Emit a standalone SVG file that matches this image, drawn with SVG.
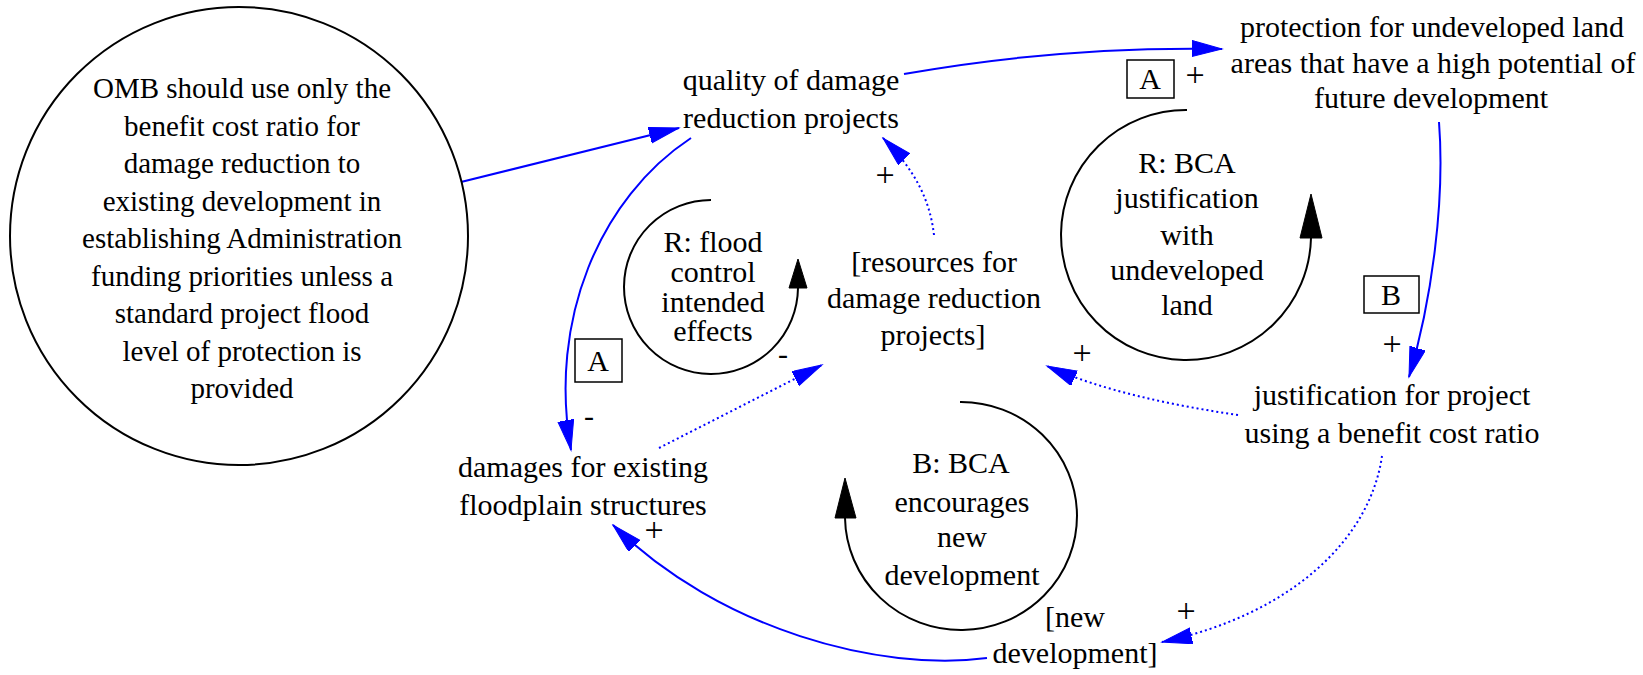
<svg xmlns="http://www.w3.org/2000/svg" width="1643" height="675" viewBox="0 0 1643 675" font-family="Liberation Serif, DejaVu Serif, serif">
<defs>
<style>
text{font-family:'Liberation Serif','DejaVu Serif',serif;font-size:30px;fill:#000;text-anchor:middle}
.big{font-size:29px}
.pl{font-size:34px}
.e{fill:none;stroke:#0000ff;stroke-width:2}
.d{fill:none;stroke:#0000ff;stroke-width:2;stroke-dasharray:2 3}
.loop{fill:none;stroke:#000;stroke-width:2}
.box{fill:#fff;stroke:#000;stroke-width:1.5}
.ah{fill:#000;stroke:#000;stroke-width:1}
</style>
<marker id="ab" markerUnits="userSpaceOnUse" markerWidth="32" markerHeight="18" refX="30" refY="8" orient="auto" viewBox="0 0 32 18">
<path d="M0,0 L30,8 L0,16 z" fill="#0000ff" stroke="#0000ff" stroke-width="1"/>
</marker>
</defs>
<rect width="1643" height="675" fill="#fff"/>

<g id="connectors">
<path class="e" d="M461,182 L679,128" marker-end="url(#ab)"/>
<path class="e" d="M904,74 C1000,57 1110,47 1222,49" marker-end="url(#ab)"/>
<path class="e" d="M691,138 C600,198 548,320 571,450" marker-end="url(#ab)"/>
<path class="d" d="M934,235 C930,200 915,170 883,138" marker-end="url(#ab)"/>
<path class="d" d="M659,448 L822,365" marker-end="url(#ab)"/>
<path class="d" d="M1238,415 C1170,405 1100,390 1047,366" marker-end="url(#ab)"/>
<path class="e" d="M1439,122 C1445,200 1432,300 1409,377" marker-end="url(#ab)"/>
<path class="d" d="M1382,456 C1370,540 1290,615 1162,642" marker-end="url(#ab)"/>
<path class="e" d="M987,658 C880,672 720,630 613,525" marker-end="url(#ab)"/>
<text class="pl" x="885" y="186">+</text>
<text class="pl" x="1195" y="86">+</text>
<text class="pl" x="1392" y="355">+</text>
<text x="589" y="426">-</text>
<text x="783" y="364">-</text>
<text class="pl" x="654" y="541">+</text>
<text class="pl" x="1082" y="364">+</text>
<text class="pl" x="1186" y="622">+</text>
</g>

<g id="omb">
<circle cx="239" cy="236" r="229" fill="none" stroke="#000" stroke-width="2"/>
<text class="big" x="242" y="98">OMB should use only the</text>
<text class="big" x="242" y="135.5">benefit cost ratio for</text>
<text class="big" x="242" y="173">damage reduction to</text>
<text class="big" x="242" y="210.5">existing development in</text>
<text class="big" x="242" y="248">establishing Administration</text>
<text class="big" x="242" y="285.5">funding priorities unless a</text>
<text class="big" x="242" y="323">standard project flood</text>
<text class="big" x="242" y="360.5">level of protection is</text>
<text class="big" x="242" y="398">provided</text>
</g>

<g id="quality">
<text x="791" y="90">quality of damage</text>
<text x="791" y="128">reduction projects</text>
</g>

<g id="protection">
<text x="1432" y="37">protection for undeveloped land</text>
<text x="1433" y="73">areas that have a high potential of</text>
<text x="1431" y="108">future development</text>
</g>

<g id="resources">
<text x="934" y="272">[resources for</text>
<text x="934" y="308">damage reduction</text>
<text x="933" y="345">projects]</text>
</g>

<g id="damages">
<text x="583" y="477">damages for existing</text>
<text x="583" y="515">floodplain structures</text>
</g>

<g id="justification">
<text x="1392" y="405">justification for project</text>
<text x="1392" y="443">using a benefit cost ratio</text>
</g>

<g id="newdev">
<text x="1075" y="627">[new</text>
<text x="1075" y="663">development]</text>
</g>

<g id="loop-r-flood">
<path class="loop" d="M711,200 A87,87 0 1 0 798,288"/>
<polygon class="ah" points="798,259 789,288 807,288"/>
<text x="713" y="252">R: flood</text>
<text x="713" y="282">control</text>
<text x="713" y="312">intended</text>
<text x="713" y="341">effects</text>
</g>

<g id="loop-r-bca">
<path class="loop" d="M1187,110 A125,125 0 1 0 1311,238"/>
<polygon class="ah" points="1311,194 1300,238 1322,238"/>
<text x="1187" y="173">R: BCA</text>
<text x="1187" y="208">justification</text>
<text x="1187" y="245">with</text>
<text x="1187" y="280">undeveloped</text>
<text x="1187" y="315">land</text>
</g>

<g id="loop-b-bca">
<path class="loop" d="M960,402 A116,114 0 1 1 845,518"/>
<polygon class="ah" points="845,478 835,518 856,518"/>
<text x="961" y="473">B: BCA</text>
<text x="962" y="512">encourages</text>
<text x="962" y="547">new</text>
<text x="962" y="585">development</text>
</g>

<g id="box-a-top">
<rect class="box" x="1127" y="60" width="47" height="38"/>
<text x="1150" y="89">A</text>
</g>
<g id="box-a-bottom">
<rect class="box" x="575" y="339" width="47" height="43"/>
<text x="598" y="371">A</text>
</g>
<g id="box-b">
<rect class="box" x="1364" y="276" width="55" height="37"/>
<text x="1391" y="305">B</text>
</g>
</svg>
